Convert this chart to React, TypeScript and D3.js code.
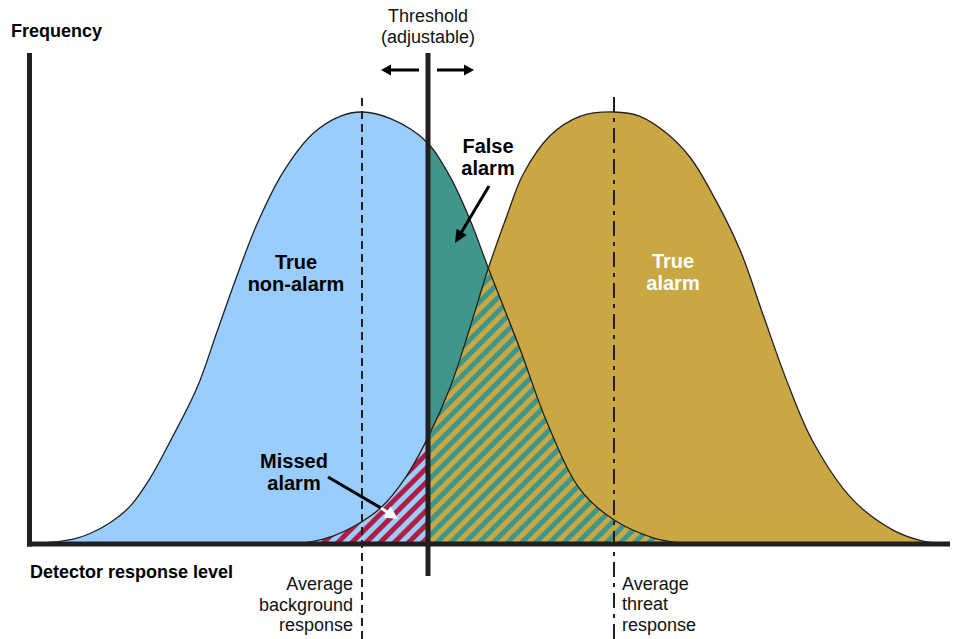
import React from "react";
import * as d3 from "d3";

// Detector response level (arbitrary units) and relative frequency
const backgroundResponse = [1.1, 3.1, 4.6, 6.1, 8.1, 10.1, 12.1, 14.1, 16.8, 18.8, 20.8, 22.8, 25.4, 28.4, 31.1, 33.3, 36.1, 39.8, 42.1, 44.1, 45.9, 49.1, 51.8, 55.1, 58.4, 62.4, 65.1];
const backgroundFreq = [0, 0.004, 0.01, 0.022, 0.047, 0.085, 0.15, 0.235, 0.36, 0.49, 0.62, 0.74, 0.86, 0.95, 0.99, 1.0, 0.985, 0.93, 0.85, 0.75, 0.64, 0.45, 0.28, 0.125, 0.055, 0.012, 0];
const threatResponse = [27.1, 28.4, 30.4, 32.6, 35.1, 37.6, 39.9, 42.1, 44.1, 45.9, 47.8, 49.4, 52.1, 55.1, 58.5, 61.1, 63.8, 66.1, 68.1, 71.1, 73.4, 75.8, 78.4, 82.4, 86.4, 89.1, 90.6];
const threatFreq = [0, 0.004, 0.016, 0.04, 0.08, 0.15, 0.245, 0.36, 0.5, 0.635, 0.76, 0.855, 0.945, 0.99, 1.0, 0.99, 0.95, 0.895, 0.82, 0.68, 0.53, 0.375, 0.235, 0.1, 0.03, 0.006, 0];
const backgroundMean = 33.3;
const threatMean = 58.5;
const thresholdValue = 39.9;

const labelsBgMean = ["Average", "background", "response"];
const labelsThreatMean = ["Average", "threat", "response"];
const labelsThreshold = ["Threshold", "(adjustable)"];

const W = 956;
const H = 639;
const BLUE = "#99CCFF";
const TEAL = "#3F978C";
const GOLD = "#C9A742";
const CRIMSON = "#B01D43";
const INK = "#231F20";
const FONT = "'Liberation Sans', Arial, sans-serif";

const xScale = d3.scaleLinear().domain([0, 92]).range([29, 949]);
const yScale = d3.scaleLinear().domain([0, 1]).range([543, 112]);

const bgPts: [number, number][] = backgroundResponse.map((x, i) => [x, backgroundFreq[i]]);
const thPts: [number, number][] = threatResponse.map((x, i) => [x, threatFreq[i]]);

const curve = d3.curveCatmullRom.alpha(0.5);
const area = d3
  .area<[number, number]>()
  .x((d) => xScale(d[0]))
  .y0(yScale(0))
  .y1((d) => yScale(d[1]))
  .curve(curve);
const line = d3
  .line<[number, number]>()
  .x((d) => xScale(d[0]))
  .y((d) => yScale(d[1]))
  .curve(curve);

function arrow(x1: number, y1: number, x2: number, y2: number, hl: number, hw: number) {
  const dx = x2 - x1, dy = y2 - y1;
  const L = Math.hypot(dx, dy);
  const ux = dx / L, uy = dy / L;
  const bx = x2 - ux * hl, by = y2 - uy * hl;
  const px = -uy * hw / 2, py = ux * hw / 2;
  return {
    shaft: [x1, y1, bx + ux * 1, by + uy * 1],
    head: `${x2},${y2} ${bx + px},${by + py} ${bx - px},${by - py}`,
  };
}

export default function App() {
  const xT = xScale(thresholdValue);
  const yTop = 53;
  const yBase = 544;
  const bgArea = area(bgPts) as string;
  const thArea = area(thPts) as string;

  const aL = arrow(419, 70, 381, 70, 10, 11);
  const aR = arrow(437, 70, 474, 70, 10, 11);
  const aF = arrow(489, 186, 455, 243, 13, 12);
  const aM = arrow(381, 508, 398, 519, 13, 13);

  return (
    <svg width={W} height={H} style={{ position: "absolute", left: 0, top: 0, background: "#fff" }} fontFamily={FONT}>
      <defs>
        <clipPath id="leftT">
          <rect x={0} y={0} width={xT} height={H} />
        </clipPath>
        <clipPath id="rightT">
          <rect x={xT} y={0} width={W - xT} height={H} />
        </clipPath>
        <clipPath id="bgClip">
          <path d={bgArea} />
        </clipPath>
        <pattern id="hatchMissed" patternUnits="userSpaceOnUse" width={10} height={10} patternTransform="rotate(45)">
          <rect x={0} y={0} width={10} height={10} fill={BLUE} />
          <rect x={0} y={0} width={5} height={10} fill={CRIMSON} />
        </pattern>
        <pattern id="hatchFalse" patternUnits="userSpaceOnUse" width={10} height={10} patternTransform="rotate(45)">
          <rect x={0} y={0} width={10} height={10} fill={GOLD} />
          <rect x={0} y={0} width={5} height={10} fill={TEAL} />
        </pattern>
      </defs>

      {/* fills */}
      <path d={bgArea} fill={BLUE} clipPath="url(#leftT)" />
      <path d={bgArea} fill={TEAL} clipPath="url(#rightT)" />
      <path d={thArea} fill={GOLD} />
      <g clipPath="url(#bgClip)">
        <path d={thArea} fill="url(#hatchMissed)" clipPath="url(#leftT)" />
        <path d={thArea} fill="url(#hatchFalse)" clipPath="url(#rightT)" />
      </g>

      {/* outlines */}
      <path d={line(bgPts) as string} fill="none" stroke={INK} strokeWidth={1.3} />
      <path d={line(thPts) as string} fill="none" stroke={INK} strokeWidth={1.3} />

      {/* mean lines */}
      <line x1={xScale(backgroundMean)} x2={xScale(backgroundMean)} y1={98} y2={H} stroke={INK} strokeWidth={2} strokeDasharray="8,5" />
      <line x1={xScale(threatMean)} x2={xScale(threatMean)} y1={97} y2={H} stroke={INK} strokeWidth={2} strokeDasharray="15,6,4,6" />

      {/* axes */}
      <line x1={29.5} x2={29.5} y1={yTop} y2={yBase + 2.5} stroke={INK} strokeWidth={5} />
      <line x1={27} x2={950} y1={yBase} y2={yBase} stroke={INK} strokeWidth={5} />

      {/* threshold */}
      <line x1={xT} x2={xT} y1={yTop} y2={576} stroke={INK} strokeWidth={5} />

      {/* arrows */}
      {[aL, aR, aF].map((a, i) => (
        <g key={i}>
          <line x1={a.shaft[0]} y1={a.shaft[1]} x2={a.shaft[2]} y2={a.shaft[3]} stroke="#000" strokeWidth={3} />
          <polygon points={a.head} fill="#000" />
        </g>
      ))}
      <line x1={328} y1={477} x2={382} y2={508.6} stroke="#000" strokeWidth={3} />
      <line x1={aM.shaft[0]} y1={aM.shaft[1]} x2={aM.shaft[2]} y2={aM.shaft[3]} stroke="#fff" strokeWidth={3} />
      <polygon points={aM.head} fill="#fff" />

      {/* texts */}
      <text x={11} y={37} fontSize={18} fontWeight="bold" fill="#000">Frequency</text>
      <text x={30} y={578} fontSize={18} fontWeight="bold" fill="#000">Detector response level</text>
      {labelsThreshold.map((t, i) => (
        <text key={t} x={xT} y={22 + i * 21} fontSize={18} textAnchor="middle" fill="#111">{t}</text>
      ))}
      {labelsBgMean.map((t, i) => (
        <text key={t} x={353} y={590 + i * 20.5} fontSize={18} textAnchor="end" fill="#111">{t}</text>
      ))}
      {labelsThreatMean.map((t, i) => (
        <text key={t} x={622} y={589.5 + i * 20.5} fontSize={18} textAnchor="start" fill="#111">{t}</text>
      ))}

      <g fontSize={20} fontWeight="bold" textAnchor="middle">
        <text x={296} y={269} fill="#000">True</text>
        <text x={296} y={291} fill="#000">non-alarm</text>
        <text x={488} y={153} fill="#000">False</text>
        <text x={488} y={175} fill="#000">alarm</text>
        <text x={673} y={268} fill="#fff">True</text>
        <text x={673} y={290} fill="#fff">alarm</text>
        <text x={294} y={468} fill="#000">Missed</text>
        <text x={294} y={490} fill="#000">alarm</text>
      </g>
    </svg>
  );
}
